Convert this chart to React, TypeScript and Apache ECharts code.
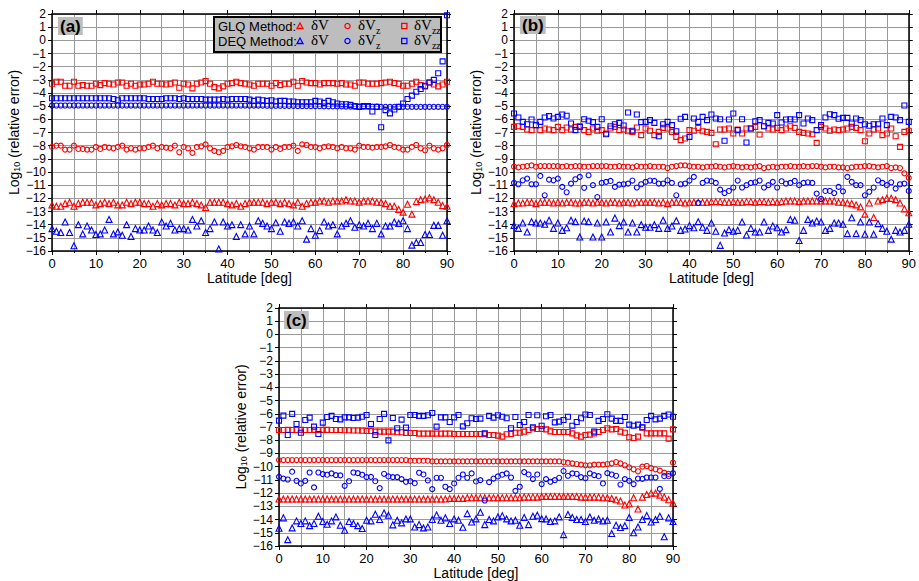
import React, { useEffect, useRef } from "react";
import * as echarts from "echarts";

// ---------- Data (latitude 0..90, step 1 deg) ----------
const latitudes: number[] = Array.from({ length: 91 }, (_, i) => i);
const yTicks: number[] = [2, 1, 0, -1, -2, -3, -4, -5, -6, -7, -8, -9, -10, -11, -12, -13, -14, -15, -16];
const xTicks: number[] = [0, 10, 20, 30, 40, 50, 60, 70, 80, 90];
const panelLabels: string[] = ["(a)", "(b)", "(c)"];

// Panel (a)
const aGlqV: number[] = [
  -12.5, -12.6, -12.6, -12.4, -12.3, -12.6, -12.4, -12.3, -12.3, -12.3,
  -12.5, -12.4, -12.3, -12.4, -12.3, -12.5, -12.5, -12.3, -12.4, -12.3,
  -12.3, -12.4, -12.4, -12.6, -12.4, -12.5, -12.4, -12.4, -12.5, -12.3,
  -12.4, -12.4, -12.3, -12.4, -12.5, -12.7, -12.3, -12.3, -12.3, -12.3,
  -12.4, -12.5, -12.4, -12.6, -12.4, -12.3, -12.3, -12.3, -12.3, -12.4,
  -12.3, -12.3, -12.4, -12.3, -12.4, -12.5, -12.3, -12.6, -12.4, -12.3,
  -12.3, -12.2, -12.2, -12.3, -12.2, -12.2, -12.2, -12.1, -12.2, -12.2,
  -12.3, -12.2, -12.2, -12.2, -12.3, -12.3, -12.4, -12.6, -12.6, -12.85,
  -13.05, -12.45, -13.2, -12.25, -12.1, -12.05, -11.95, -12.1, -12.3, -12.55, -12.6,
];
const aDeqV: number[] = [
  -14.3, -14.5, -14.6, -13.8, -14.6, -15.6, -14.0, -14.7, -14.1, -14.4,
  -14.75, -14.7, -14.4, -13.6, -14.7, -14.55, -14.8, -14.0, -14.9, -14.3,
  -14.4, -14.4, -14.1, -14.4, -14.6, -13.8, -14.1, -13.9, -14.4, -14.3,
  -14.3, -14.4, -13.6, -14.1, -13.7, -14.6, -14.3, -13.8, -15.85, -13.8,
  -14.1, -14.0, -14.9, -14.0, -14.7, -14.1, -14.7, -13.7, -13.9, -14.1,
  -14.3, -13.85, -14.5, -13.8, -13.9, -13.8, -14.1, -13.7, -15.1, -14.3,
  -14.8, -14.45, -13.8, -14.1, -14.0, -14.7, -14.1, -13.9, -13.7, -14.2,
  -14.0, -14.1, -13.9, -14.3, -13.9, -14.7, -14.1, -14.1, -13.8, -13.9,
  -13.7, -14.3, -15.55, -15.35, -15.35, -14.75, -14.75, -14.05, -14.05, -14.8, -13.7,
];
const aGlqVz: number[] = [
  -8.1, -8.0, -8.0, -8.3, -8.3, -8.0, -8.25, -8.25, -8.3, -8.3,
  -8.1, -8.25, -8.1, -8.15, -8.2, -8.1, -8.0, -8.3, -8.2, -8.3,
  -8.2, -8.2, -8.1, -8.0, -8.2, -8.1, -8.15, -8.2, -8.0, -8.5,
  -8.1, -8.2, -8.55, -8.1, -8.05, -7.9, -8.2, -8.4, -8.5, -8.4,
  -8.1, -8.05, -7.95, -8.05, -8.1, -8.2, -8.3, -8.1, -8.1, -8.1,
  -8.3, -8.1, -8.25, -8.1, -8.1, -8.0, -8.4, -7.9, -7.95, -8.1,
  -8.1, -8.2, -8.1, -8.05, -8.1, -8.2, -8.1, -8.2, -8.2, -8.3,
  -8.0, -8.1, -8.1, -8.15, -8.1, -8.1, -8.05, -7.95, -8.1, -8.15,
  -8.3, -8.3, -8.1, -7.95, -8.2, -8.35, -8.0, -8.2, -8.3, -8.2, -7.95,
];
const aDeqVz: number[] = [
  -4.95, -4.95, -4.95, -4.95, -4.95, -4.95, -4.95, -4.95, -4.95, -4.95,
  -4.95, -4.95, -4.95, -4.95, -4.95, -4.95, -4.95, -4.95, -4.95, -4.95,
  -4.95, -4.95, -4.95, -4.95, -4.95, -4.95, -4.95, -4.95, -4.95, -4.95,
  -4.95, -4.95, -4.95, -4.95, -4.95, -4.95, -4.95, -4.95, -4.95, -4.95,
  -4.95, -4.95, -4.95, -4.95, -4.95, -4.96, -4.96, -4.96, -4.96, -4.97,
  -4.97, -4.97, -4.97, -4.98, -4.98, -4.98, -4.99, -4.99, -5.0, -5.0,
  -5.0, -5.0, -5.01, -5.01, -5.02, -5.02, -5.02, -5.03, -5.03, -5.03,
  -5.03, -5.04, -5.04, -5.04, -5.04, -5.05, -5.05, -5.05, -5.05, -5.05,
  -5.05, -5.05, -5.05, -5.05, -5.05, -5.05, -5.05, -5.05, -5.05, -5.05, -5.05,
];
const aGlqVzz: number[] = [
  -3.3, -3.15, -3.15, -3.45, -3.45, -3.15, -3.45, -3.4, -3.45, -3.45,
  -3.3, -3.4, -3.25, -3.3, -3.35, -3.2, -3.2, -3.45, -3.3, -3.45,
  -3.35, -3.35, -3.3, -3.15, -3.3, -3.3, -3.35, -3.3, -3.2, -3.6,
  -3.3, -3.35, -3.65, -3.3, -3.2, -3.1, -3.3, -3.55, -3.65, -3.5,
  -3.3, -3.25, -3.15, -3.25, -3.3, -3.35, -3.45, -3.3, -3.3, -3.3,
  -3.45, -3.25, -3.4, -3.3, -3.3, -3.15, -3.45, -3.1, -3.2, -3.25,
  -3.25, -3.35, -3.25, -3.25, -3.25, -3.3, -3.25, -3.35, -3.35, -3.45,
  -3.2, -3.2, -3.3, -3.3, -3.3, -3.25, -3.2, -3.15, -3.25, -3.3,
  -3.45, -3.45, -3.3, -3.15, -3.4, -3.5, -3.2, -3.35, -3.5, -3.35, -3.15,
];
const aDeqVzz: number[] = [
  -4.4, -4.4, -4.4, -4.4, -4.4, -4.4, -4.4, -4.4, -4.4, -4.4,
  -4.4, -4.4, -4.4, -4.4, -4.45, -4.55, -4.4, -4.4, -4.4, -4.4,
  -4.4, -4.4, -4.45, -4.45, -4.45, -4.45, -4.4, -4.4, -4.4, -4.45,
  -4.4, -4.45, -4.45, -4.45, -4.45, -4.5, -4.5, -4.5, -4.5, -4.45,
  -4.5, -4.45, -4.45, -4.45, -4.45, -4.5, -4.6, -4.5, -4.55, -4.6,
  -4.55, -4.65, -4.6, -4.6, -4.65, -4.65, -4.7, -4.7, -4.7, -4.7,
  -4.6, -4.65, -4.75, -4.6, -4.7, -4.8, -4.85, -4.85, -4.9, -5.0,
  -5.05, -5.0, -5.0, -5.4, -5.05, -6.6, -5.3, -5.55, -5.25, -5.05,
  -4.8, -4.45, -4.2, -3.9, -3.7, -3.45, -3.2, -3.0, -2.5, -1.6, 1.9,
];

// Panel (b)
const bGlqV: number[] = [
  -12.4, -12.35, -12.35, -12.3, -12.3, -12.4, -12.3, -12.3, -12.3, -12.35,
  -12.3, -12.35, -12.3, -12.3, -12.35, -12.35, -12.3, -12.3, -12.35, -12.3,
  -12.3, -12.35, -12.3, -12.3, -12.35, -12.3, -12.3, -12.35, -12.3, -12.3,
  -12.3, -12.3, -12.3, -12.35, -12.3, -12.4, -12.3, -12.3, -12.3, -12.35,
  -12.3, -12.3, -12.3, -12.3, -12.3, -12.25, -12.25, -12.25, -12.3, -12.3,
  -12.25, -12.3, -12.3, -12.25, -12.25, -12.3, -12.25, -12.25, -12.3, -12.25,
  -12.3, -12.25, -12.2, -12.2, -12.2, -12.25, -12.2, -12.2, -12.2, -12.2,
  -12.2, -12.2, -12.2, -12.2, -12.3, -12.3, -12.35, -12.4, -12.5, -12.65,
  -13.2, -12.35, -13.45, -12.2, -12.1, -12.0, -12.0, -12.1, -12.35, -12.8, -13.1,
];
const bDeqV: number[] = [
  -14.05, -14.28, -13.87, -14.56, -13.77, -13.87, -13.87, -13.97, -13.67, -14.28,
  -13.87, -14.43, -14.23, -13.67, -13.77, -14.94, -13.72, -13.77, -14.94, -13.87,
  -14.94, -13.8, -14.56, -13.5, -14.07, -13.8, -14.56, -13.87, -14.56, -14.0,
  -14.2, -14.2, -14.0, -14.28, -13.67, -14.28, -14.1, -13.7, -14.43, -14.33,
  -14.07, -14.23, -13.77, -14.2, -14.43, -13.87, -14.5, -15.57, -14.63, -14.38,
  -14.5, -14.43, -13.8, -14.78, -14.28, -14.56, -14.56, -13.8, -14.43, -14.1,
  -14.23, -14.56, -14.38, -13.6, -13.67, -15.2, -14.43, -13.6, -13.87, -13.72,
  -13.8, -14.43, -14.28, -13.87, -13.87, -13.97, -14.68, -13.47, -14.68, -13.8,
  -14.73, -13.8, -14.73, -13.92, -14.28, -14.5, -15.1, -14.43, -14.56, -14.43, -13.97,
];
const bGlqVz: number[] = [
  -9.6, -9.65, -9.6, -9.55, -9.5, -9.6, -9.55, -9.55, -9.55, -9.55,
  -9.55, -9.6, -9.55, -9.6, -9.55, -9.55, -9.6, -9.6, -9.55, -9.55,
  -9.55, -9.55, -9.6, -9.6, -9.55, -9.6, -9.6, -9.65, -9.55, -9.6,
  -9.6, -9.55, -9.6, -9.6, -9.6, -9.7, -9.6, -9.55, -9.5, -9.5,
  -9.55, -9.6, -9.6, -9.65, -9.6, -9.6, -9.55, -9.6, -9.65, -9.6,
  -9.55, -9.6, -9.65, -9.6, -9.65, -9.6, -9.55, -9.7, -9.65, -9.6,
  -9.65, -9.6, -9.6, -9.55, -9.6, -9.6, -9.55, -9.6, -9.55, -9.55,
  -9.6, -9.65, -9.6, -9.6, -9.65, -9.65, -9.7, -9.65, -9.6, -9.6,
  -9.55, -9.55, -9.6, -9.65, -9.6, -9.55, -9.7, -9.65, -9.7, -10.1, -10.45,
];
const bDeqVz: number[] = [
  -10.83, -10.93, -10.63, -10.5, -10.93, -10.93, -10.3, -11.77, -10.58, -10.63,
  -10.5, -11.13, -11.54, -10.88, -10.55, -10.37, -11.2, -10.25, -11.0, -11.9,
  -10.83, -10.75, -10.68, -11.13, -10.96, -10.93, -10.88, -10.65, -11.18, -10.93,
  -10.75, -10.65, -10.68, -10.88, -10.88, -10.63, -10.83, -11.77, -10.93, -10.88,
  -10.65, -10.37, -12.35, -10.83, -10.65, -10.7, -10.83, -11.34, -11.6, -11.44,
  -11.18, -10.65, -11.18, -11.0, -10.83, -10.78, -10.65, -11.18, -11.0, -10.75,
  -11.18, -10.7, -10.88, -10.83, -10.68, -11.0, -10.83, -10.78, -10.83, -11.64,
  -12.05, -11.44, -11.44, -11.6, -11.13, -11.47, -10.37, -10.75, -11.0, -11.0,
  -11.77, -11.5, -11.18, -10.63, -10.83, -11.0, -10.78, -11.26, -10.93, -10.88, -11.44,
];
const bGlqVzz: number[] = [
  -6.57, -6.52, -6.57, -6.77, -6.82, -6.44, -6.82, -6.7, -6.77, -6.82,
  -6.57, -6.82, -6.62, -6.77, -6.57, -6.52, -6.82, -6.95, -6.7, -6.87,
  -6.82, -7.08, -6.7, -6.57, -6.82, -6.77, -6.9, -6.95, -6.62, -7.2,
  -6.7, -6.87, -7.2, -6.95, -6.65, -6.7, -6.95, -7.33, -7.58, -7.46,
  -6.82, -6.87, -6.65, -6.9, -6.95, -7.03, -7.89, -6.77, -6.77, -6.7,
  -7.08, -6.77, -7.08, -6.7, -6.7, -6.57, -7.15, -6.52, -6.7, -6.77,
  -6.65, -6.82, -6.7, -6.52, -6.65, -6.95, -7.03, -7.08, -7.13, -7.79,
  -6.57, -6.7, -6.87, -6.77, -6.82, -6.77, -6.7, -6.57, -6.65, -6.82,
  -7.66, -7.08, -6.77, -6.7, -7.2, -7.08, -6.7, -7.28, -8.09, -6.95, -6.87,
];
const bDeqVzz: number[] = [
  -5.56, -5.86, -6.19, -6.37, -6.01, -6.44, -6.19, -5.86, -5.76, -5.94,
  -5.81, -5.63, -5.73, -6.32, -6.82, -6.57, -5.99, -6.11, -6.21, -6.57,
  -5.99, -7.13, -6.52, -6.37, -6.27, -6.47, -5.48, -6.87, -5.63, -6.21,
  -6.19, -6.06, -6.27, -7.28, -6.37, -6.19, -6.44, -6.9, -5.96, -5.81,
  -7.33, -5.94, -6.19, -5.81, -6.06, -5.63, -5.94, -5.99, -7.63, -6.01,
  -5.56, -6.82, -5.99, -7.76, -6.7, -6.14, -6.06, -6.52, -6.27, -6.32,
  -5.68, -6.24, -6.01, -5.99, -6.01, -5.68, -6.32, -5.94, -6.06, -6.82,
  -6.44, -5.86, -5.61, -5.68, -5.96, -5.89, -5.89, -6.32, -5.94, -6.06,
  -6.37, -6.49, -6.37, -6.37, -5.94, -6.44, -5.81, -5.86, -6.06, -4.95, -6.19,
];

// Panel (c)
const cGlqV: number[] = [
  -12.45, -12.45, -12.45, -12.45, -12.45, -12.45, -12.45, -12.45, -12.45, -12.45,
  -12.45, -12.45, -12.45, -12.45, -12.45, -12.45, -12.45, -12.45, -12.45, -12.45,
  -12.45, -12.45, -12.45, -12.45, -12.45, -12.45, -12.45, -12.45, -12.45, -12.45,
  -12.45, -12.45, -12.45, -12.45, -12.45, -12.45, -12.45, -12.45, -12.45, -12.4,
  -12.4, -12.4, -12.4, -12.35, -12.35, -12.35, -12.35, -12.35, -12.35, -12.35,
  -12.35, -12.35, -12.35, -12.35, -12.35, -12.35, -12.3, -12.3, -12.3, -12.3,
  -12.25, -12.25, -12.25, -12.25, -12.25, -12.25, -12.25, -12.25, -12.25, -12.3,
  -12.3, -12.3, -12.3, -12.3, -12.35, -12.35, -12.4, -12.5, -12.6, -12.9,
  -12.8, -12.35, -13.2, -12.3, -12.1, -12.0, -12.0, -12.15, -12.3, -12.5, -12.75,
];
const cDeqV: number[] = [
  -14.66, -13.87, -15.52, -14.63, -14.1, -14.3, -14.1, -14.46, -14.3, -13.75,
  -14.15, -14.35, -14.1, -13.8, -14.43, -14.81, -14.15, -14.3, -14.46, -14.68,
  -14.05, -14.1, -13.6, -14.0, -13.5, -13.67, -14.4, -14.05, -14.25, -13.95,
  -13.95, -14.56, -14.38, -14.63, -14.56, -14.0, -13.65, -14.05, -13.87, -14.3,
  -13.95, -14.05, -14.58, -13.55, -14.18, -13.95, -13.45, -14.38, -14.0, -14.1,
  -13.8, -13.72, -13.95, -14.1, -14.05, -14.43, -13.85, -14.38, -13.75, -13.67,
  -13.93, -13.95, -14.15, -14.1, -13.8, -15.14, -13.62, -13.85, -14.0, -14.0,
  -14.15, -13.8, -14.05, -13.95, -14.1, -14.05, -15.06, -14.43, -14.6, -14.46,
  -13.85, -15.0, -14.56, -14.0, -13.7, -14.18, -14.0, -13.75, -15.3, -13.87, -14.15,
];
const cGlqVz: number[] = [
  -9.5, -9.5, -9.5, -9.5, -9.5, -9.5, -9.5, -9.5, -9.5, -9.5,
  -9.5, -9.5, -9.5, -9.5, -9.5, -9.5, -9.5, -9.5, -9.5, -9.5,
  -9.5, -9.5, -9.5, -9.5, -9.5, -9.5, -9.5, -9.5, -9.5, -9.5,
  -9.55, -9.55, -9.55, -9.55, -9.55, -9.6, -9.6, -9.6, -9.6, -9.6,
  -9.6, -9.6, -9.6, -9.6, -9.6, -9.6, -9.6, -9.6, -9.6, -9.6,
  -9.6, -9.6, -9.6, -9.6, -9.6, -9.6, -9.6, -9.6, -9.6, -9.6,
  -9.6, -9.6, -9.6, -9.6, -9.6, -9.65, -9.7, -9.75, -9.8, -9.85,
  -9.9, -9.9, -9.85, -9.85, -9.85, -9.8, -9.75, -9.65, -9.75, -9.9,
  -10.05, -10.2, -10.35, -10.0, -9.95, -10.1, -10.2, -10.3, -10.45, -10.55, -9.7,
];
const cDeqVz: number[] = [
  -10.77, -10.9, -10.97, -10.38, -11.07, -11.27, -11.07, -10.44, -11.57, -10.44,
  -10.56, -10.61, -10.51, -10.64, -10.66, -11.45, -11.1, -10.44, -10.49, -10.61,
  -10.79, -10.77, -11.1, -11.62, -10.54, -10.74, -10.79, -10.79, -10.94, -11.14,
  -11.1, -11.25, -10.46, -10.59, -11.04, -11.7, -10.84, -10.84, -11.52, -11.7,
  -11.27, -10.84, -10.59, -10.84, -10.51, -11.12, -11.02, -12.56, -11.17, -10.9,
  -10.74, -10.61, -10.51, -10.82, -11.83, -11.52, -10.41, -10.59, -10.94, -10.59,
  -11.32, -10.94, -11.14, -11.02, -10.84, -10.33, -10.69, -10.51, -10.54, -10.79,
  -10.87, -10.51, -10.64, -10.72, -11.27, -10.49, -10.59, -10.69, -11.35, -10.94,
  -11.07, -11.32, -10.9, -10.92, -10.82, -10.82, -10.82, -11.68, -10.72, -10.72, -10.49,
];
const cGlqVzz: number[] = [
  -7.23, -7.23, -7.22, -7.23, -7.23, -7.22, -7.23, -7.23, -7.22, -7.23,
  -7.22, -7.22, -7.23, -7.23, -7.23, -7.25, -7.25, -7.26, -7.27, -7.28,
  -7.3, -7.3, -7.35, -7.35, -7.35, -7.35, -7.35, -7.4, -7.4, -7.45,
  -7.45, -7.45, -7.5, -7.5, -7.5, -7.5, -7.5, -7.5, -7.5, -7.5,
  -7.53, -7.53, -7.53, -7.53, -7.53, -7.53, -7.53, -7.55, -7.6, -7.6,
  -7.65, -7.73, -7.55, -7.53, -7.43, -7.43, -7.35, -7.23, -7.1, -7.15,
  -7.15, -7.18, -7.33, -7.38, -7.38, -7.38, -7.38, -7.48, -7.63, -7.73,
  -7.6, -7.58, -7.48, -7.38, -7.23, -7.1, -7.18, -7.15, -7.35, -7.43,
  -7.78, -7.83, -7.73, -7.05, -7.48, -7.48, -7.48, -7.48, -7.48, -7.88, -7.18,
];
const cDeqVzz: number[] = [
  -6.52, -6.14, -7.6, -6.01, -6.77, -7.43, -6.47, -6.29, -6.97, -7.53,
  -6.67, -6.24, -6.16, -6.39, -6.42, -6.27, -6.27, -6.32, -6.29, -6.22,
  -6.09, -6.77, -7.6, -6.39, -6.01, -8.01, -6.32, -7.1, -6.44, -7.05,
  -6.09, -6.09, -6.16, -6.16, -6.11, -5.94, -6.97, -6.27, -6.27, -6.62,
  -6.27, -6.09, -6.95, -6.72, -6.34, -6.39, -6.37, -7.48, -6.16, -6.29,
  -6.11, -6.22, -6.34, -7.1, -6.24, -6.85, -6.62, -6.09, -7.02, -6.11,
  -6.9, -6.19, -6.09, -6.65, -6.59, -6.47, -6.22, -6.9, -6.62, -6.34,
  -6.06, -6.09, -7.35, -6.54, -6.39, -6.04, -6.37, -6.54, -6.54, -6.24,
  -6.82, -6.9, -6.82, -7.02, -6.47, -6.16, -6.42, -6.37, -6.16, -6.06, -6.22,
];

const panels = [
  { glq: [aGlqV, aGlqVz, aGlqVzz], deq: [aDeqV, aDeqVz, aDeqVzz] },
  { glq: [bGlqV, bGlqVz, bGlqVzz], deq: [bDeqV, bDeqVz, bDeqVzz] },
  { glq: [cGlqV, cGlqVz, cGlqVzz], deq: [cDeqV, cDeqVz, cDeqVzz] },
];

// ---------- Styling / layout ----------
const SANS = '"Liberation Sans", Arial, Helvetica, sans-serif';
const SERIF = '"Liberation Serif", "Times New Roman", serif';
const RED = "#ff0000";
const BLUE = "#0000ff";
const GRID_COLOR = "#9a9a9a";
const gridBoxes = [
  { left: 52, top: 14, width: 395, height: 237 },
  { left: 514, top: 14, width: 396, height: 237 },
  { left: 279, top: 308, width: 394, height: 238 },
];
const titleBoxes = [
  { left: 58, top: 17 },
  { left: 520, top: 16 },
  { left: 284, top: 311 },
];
const symbols = ["triangle", "circle", "rect"];
const symbolSizes = [6, 5, 5];
const seriesNames = ["δV", "δVz", "δVzz"];
const legendSubs = ["", "z", "zz"];

const fmtMinus = (v: number) => (v < 0 ? "\u2212" + Math.abs(v) : String(v));

function buildOption() {
  const xAxis: any[] = [];
  const yAxis: any[] = [];
  const series: any[] = [];
  const frameLine = { show: true, onZero: false, lineStyle: { color: "#000", width: 1.5 } };
  const tick = { show: true, inside: false, length: 4, lineStyle: { color: "#000", width: 1 } };
  gridBoxes.forEach((_, gi) => {
    xAxis.push({
      type: "value", gridIndex: gi, position: "bottom", min: xTicks[0], max: xTicks[xTicks.length - 1], interval: 10,
      axisLine: frameLine, axisTick: tick,
      minorTick: { show: true, splitNumber: 2, length: 2, lineStyle: { color: "#000" } },
      splitLine: { show: true, lineStyle: { color: GRID_COLOR, width: 1 } },
      minorSplitLine: { show: true, lineStyle: { color: GRID_COLOR, width: 1 } },
      axisLabel: { show: true, margin: 6, fontSize: 13, color: "#000", fontFamily: SANS },
      name: "Latitude [deg]", nameLocation: "middle", nameGap: 19,
      nameTextStyle: { fontSize: 14, color: "#000", fontFamily: SANS },
    });
    xAxis.push({
      type: "value", gridIndex: gi, position: "top", min: 0, max: 90, interval: 10,
      axisLine: frameLine, axisTick: tick,
      axisLabel: { show: false }, splitLine: { show: false },
    });
    yAxis.push({
      type: "value", gridIndex: gi, position: "left", min: yTicks[yTicks.length - 1], max: yTicks[0], interval: 1,
      axisLine: frameLine, axisTick: tick,
      splitLine: { show: true, lineStyle: { color: GRID_COLOR, width: 1 } },
      axisLabel: { show: true, margin: 6, fontSize: 12, lineHeight: 12, color: "#000", fontFamily: SANS, formatter: fmtMinus },
      name: "{a|Log}{s|10}{a| (relative error)}", nameLocation: "middle", nameGap: 21,
      nameTextStyle: {
        color: "#000", fontFamily: SANS, fontSize: 14,
        rich: {
          a: { fontSize: 14, fontFamily: SANS, color: "#000", lineHeight: 16, verticalAlign: "middle" },
          s: { fontSize: 9, fontFamily: SANS, color: "#000", lineHeight: 9, verticalAlign: "bottom" },
        },
      },
    });
    yAxis.push({
      type: "value", gridIndex: gi, position: "right", min: -16, max: 2, interval: 1,
      axisLine: frameLine, axisTick: tick,
      axisLabel: { show: false }, splitLine: { show: false },
    });
    const p = panels[gi];
    const addSeries = (arrs: number[][], color: string, method: string) => {
      arrs.forEach((arr, k) => {
        series.push({
          type: "scatter",
          name: method + " " + seriesNames[k],
          xAxisIndex: gi * 2, yAxisIndex: gi * 2,
          data: arr.map((v, i) => [latitudes[i], v]),
          symbol: symbols[k], symbolSize: symbolSizes[k],
          itemStyle: { color: "rgba(0,0,0,0)", borderColor: color, borderWidth: 1.1, opacity: 1 },
          silent: true,
        });
      });
    };
    addSeries(p.glq, RED, "GLQ");
    addSeries(p.deq, BLUE, "DEQ");
  });

  const title = panelLabels.map((t, i) => ({
    text: t, left: titleBoxes[i].left, top: titleBoxes[i].top, padding: [1, 2, 0, 2],
    backgroundColor: "#bdbdbd",
    textStyle: { fontSize: 17, fontWeight: "bold", color: "#000", fontFamily: SANS },
  }));

  // Legend box drawn in panel (a)
  const rows = [
    { label: "GLQ Method:", color: RED, y: 26 },
    { label: "DEQ Method:", color: BLUE, y: 41 },
  ];
  const labelX = [311, 358, 414];
  const richLegend = {
    m: { fontSize: 15, fontFamily: SERIF, lineHeight: 20, verticalAlign: "middle" },
    s: { fontSize: 10, fontFamily: SERIF, lineHeight: 10, verticalAlign: "bottom" },
  };
  const lg: any[] = [
    { type: "rect", shape: { x: 214, y: 17, width: 227, height: 35 }, style: { fill: "#bdbdbd", stroke: "#000", lineWidth: 2 }, z: 100 },
  ];
  rows.forEach((r) => {
    lg.push({ type: "text", x: 218, y: r.y, z: 101, style: { text: r.label, fill: "#000", fontSize: 13, fontFamily: SANS, verticalAlign: "middle" } });
    lg.push({ type: "polygon", z: 101, shape: { points: [[297, r.y + 2.5], [303, r.y + 2.5], [300, r.y - 3]] }, style: { fill: "none", stroke: r.color, lineWidth: 1.3 } });
    lg.push({ type: "circle", z: 101, shape: { cx: 347.5, cy: r.y, r: 2.6 }, style: { fill: "none", stroke: r.color, lineWidth: 1.3 } });
    lg.push({ type: "rect", z: 101, shape: { x: 401.7, y: r.y - 2.6, width: 5.2, height: 5.2 }, style: { fill: "none", stroke: r.color, lineWidth: 1.3 } });
    legendSubs.forEach((sub, k) => {
      lg.push({
        type: "text", x: labelX[k], y: r.y - 11, z: 101,
        style: {
          text: sub ? `{m|δV}{s|${sub}}` : "{m|δV}", fill: "#000",
          rich: richLegend,
        },
      });
    });
  });

  return {
    animation: false,
    backgroundColor: "#ffffff",
    title,
    grid: gridBoxes.map((g) => ({ ...g, containLabel: false })),
    xAxis, yAxis, series,
    graphic: lg,
  };
}

export default function App() {
  const ref = useRef<HTMLDivElement>(null);
  useEffect(() => {
    if (!ref.current) return;
    const chart = echarts.init(ref.current, undefined, { renderer: "svg" });
    chart.setOption(buildOption() as any);
    return () => chart.dispose();
  }, []);
  return (
    <div
      ref={ref}
      style={{ position: "fixed", left: 0, top: 0, width: 919, height: 581, background: "#fff" }}
    />
  );
}
